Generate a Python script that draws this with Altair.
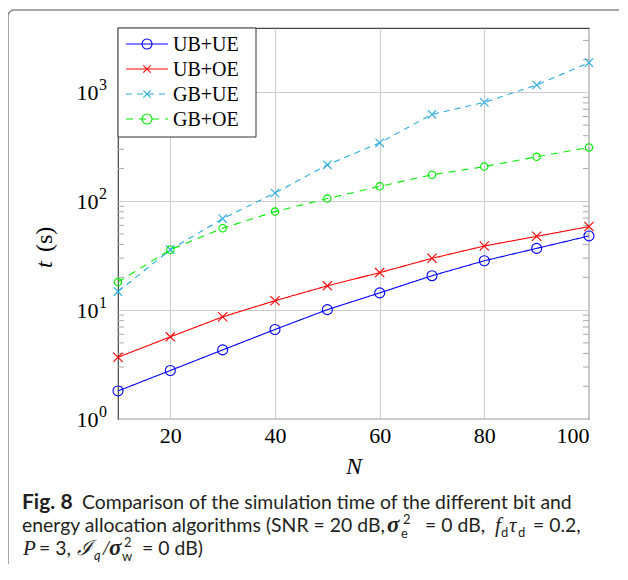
import altair as alt
import pandas as pd

# ---------------- data ----------------
N_values = [10, 20, 30, 40, 50, 60, 70, 80, 90, 100]
series_names = ["UB+UE", "UB+OE", "GB+UE", "GB+OE"]
t_ub_ue = [1.81, 2.79, 4.31, 6.64, 10.1, 14.4, 20.7, 28.4, 36.9, 48.0]
t_ub_oe = [3.69, 5.68, 8.68, 12.2, 16.7, 22.1, 29.9, 38.8, 47.6, 58.5]
t_gb_ue = [14.8, 35.9, 69.3, 119, 216, 344, 628, 809, 1168, 1875]
t_gb_oe = [18.1, 35.9, 56.5, 80.3, 105.8, 137, 175, 208, 256, 312]
y_tick_values = [1, 10, 100, 1000]
y_tick_exponents = ["0", "1", "2", "3"]
x_tick_values = [20, 40, 60, 80, 100]

colors = ["#0000ff", "#ff0000", "#29abe2", "#00ee00"]
dashes = [[1, 0], [1, 0], [6, 5], [7, 6]]
XPATH = "M-1,-1L1,1M-1,1L1,-1"
shapes = ["circle", XPATH, XPATH, "circle"]
sizes = [100, 55, 55, 100]

rows = []
for name, vals in zip(series_names, [t_ub_ue, t_ub_oe, t_gb_ue, t_gb_oe]):
    for n, t in zip(N_values, vals):
        rows.append({"N": n, "t": t, "series": name})
df = pd.DataFrame(rows)

minor = [k * 10 ** e for e in range(0, 4) for k in range(2, 10) if k * 10 ** e < 3900]
df_minor = pd.DataFrame({"v": minor})
df_exp = pd.DataFrame({"v": y_tick_values, "e": y_tick_exponents})

W, H = 471, 391
SERIF = "Liberation Serif"
SANS = "Lato"
CAP = "#231f20"

xs = alt.Scale(domain=[10, 100], nice=False)
ys = alt.Scale(type="log", domain=[1, 3900], nice=False)
col = alt.Scale(domain=series_names, range=colors)

base = alt.Chart(df)

lines = base.mark_line(strokeWidth=1.1).encode(
    x=alt.X("N:Q", scale=xs, axis=alt.Axis(
        values=x_tick_values, title="N", grid=True, ticks=False, domain=False,
        labelFont=SERIF, labelFontSize=22, labelColor="black", labelPadding=6,
        titleFont=SERIF, titleFontSize=24, titleFontStyle="italic",
        titleFontWeight="normal", titleColor="black", titlePadding=8,
        gridColor="#cccccc", gridWidth=1)),
    y=alt.Y("t:Q", scale=ys, axis=alt.Axis(
        values=y_tick_values, labelExpr="'10'", title=None, grid=True,
        ticks=False, domain=False, labelFont=SERIF, labelFontSize=22,
        labelColor="black", labelPadding=20, labelBaseline="middle",
        gridColor="#cccccc", gridWidth=1)),
    color=alt.Color("series:N", scale=col, legend=None),
    strokeDash=alt.StrokeDash("series:N", scale=alt.Scale(domain=series_names, range=dashes), legend=None),
    detail="series:N",
)

exponents = alt.Chart(df_exp).mark_text(
    font=SERIF, fontSize=16, color="black", align="left", baseline="middle", dy=-7
).encode(y=alt.Y("v:Q", scale=ys), x=alt.value(-19), text="e:N")

points = base.mark_point(filled=False, strokeWidth=1.1, opacity=1).encode(
    x=alt.X("N:Q", scale=xs),
    y=alt.Y("t:Q", scale=ys),
    color=alt.Color("series:N", scale=col, legend=None),
    shape=alt.Shape("series:N", scale=alt.Scale(domain=series_names, range=shapes), legend=None),
    size=alt.Size("series:N", scale=alt.Scale(domain=series_names, range=sizes), legend=None),
)

minor_left = alt.Chart(df_minor).mark_rule(color="#aaaaaa", strokeWidth=1).encode(
    y=alt.Y("v:Q", scale=ys), x=alt.value(0), x2=alt.value(6))
minor_right = alt.Chart(df_minor).mark_rule(color="#aaaaaa", strokeWidth=1).encode(
    y=alt.Y("v:Q", scale=ys), x=alt.value(W - 6), x2=alt.value(W))

one = pd.DataFrame({"_": [0]})

def txt(text, x, y, font=SANS, size=19, style="normal", weight="normal", color=CAP, angle=0, align="left", baseline="alphabetic"):
    return alt.Chart(one).mark_text(
        text=text, font=font, fontSize=size, fontStyle=style, fontWeight=weight,
        color=color, angle=angle, align=align, baseline=baseline,
    ).encode(x=alt.value(x), y=alt.value(y))

# legend
legend_layers = [
    alt.Chart(one).mark_rect(fill="white", stroke="#333333", strokeWidth=1).encode(
        x=alt.value(0), x2=alt.value(138), y=alt.value(0), y2=alt.value(109))
]
for i, name in enumerate(series_names):
    yy = 16 + 25 * i
    legend_layers.append(alt.Chart(one).mark_rule(
        color=colors[i], strokeWidth=1.1, strokeDash=dashes[i]).encode(
        x=alt.value(8), x2=alt.value(50), y=alt.value(yy)))
    legend_layers.append(alt.Chart(one).mark_point(
        shape=shapes[i], size=sizes[i], filled=False, color=colors[i], strokeWidth=1.1, opacity=1).encode(
        x=alt.value(29), y=alt.value(yy)))
    legend_layers.append(txt(name, 55, yy + 1, font=SERIF, size=20, color="black", baseline="middle"))

# frame around figure + caption: left and top edges only (right/bottom lie outside the page)
frame = [
    alt.Chart(one).mark_rule(stroke="#8a8a8a", strokeWidth=1.5).encode(
        x=alt.value(-110), y=alt.value(-12), y2=alt.value(560)),
    alt.Chart(one).mark_rule(stroke="#8a8a8a", strokeWidth=1.5).encode(
        x=alt.value(-104), x2=alt.value(520), y=alt.value(-18)),
    alt.Chart(one).mark_arc(stroke="#8a8a8a", strokeWidth=1.5, fill=None,
                            radius=6, radius2=6, theta=4.712, theta2=6.283).encode(
        x=alt.value(-104), y=alt.value(-12)),
]

# y title
ytitle = [
    txt("t", -73, 240, font=SERIF, size=24, style="italic", color="black", angle=270, align="left", baseline="middle"),
    txt("(s)", -73, 224, font=SERIF, size=24, color="black", angle=270, align="left", baseline="middle"),
]

OX, OY = 118, 28.3
def cap(text, rx, ry, **kw):
    return txt(text, rx - OX, ry - OY, **kw)

L1, L2, L3 = 509.5, 532.3, 555.3
caption = [
    cap("Fig. 8", 22, L1, weight="bold", size=21),
    cap("Comparison of the simulation time of the different bit and", 82, L1, size=19.4),
    cap("energy allocation algorithms (SNR = 20 dB,", 22, L2, size=19.4),
    cap("σ", 387, L2, font=SERIF, style="italic", weight="bold", size=23),
    cap("e", 401, L2 + 6, size=13),
    cap("2", 403, L2 - 8, size=13),
    cap("= 0 dB,", 425, L2, size=19.4),
    cap("f", 495, L2, font=SERIF, style="italic", size=21),
    cap("d", 501, L2 + 5, size=13),
    cap("τ", 509, L2, font=SERIF, style="italic", size=21),
    cap("d", 518, L2 + 5, size=13),
    cap("= 0.2,", 533, L2, size=19.4),
    cap("P", 23, L3, font=SERIF, style="italic", size=21),
    cap("= 3,", 39, L3, size=19.4),
    cap("ℐ", 77, L3, font=SERIF, style="italic", size=21),
    cap("q", 94, L3 + 5, size=13, style="italic"),
    cap("/", 103, L3, font=SERIF, style="italic", size=21),
    cap("σ", 109, L3, font=SERIF, style="italic", weight="bold", size=23),
    cap("w", 122, L3 + 6, size=13),
    cap("2", 124, L3 - 8, size=13),
    cap("= 0 dB)", 142, L3, size=19.4),
]

chart = alt.layer(
    *frame, lines, minor_left, minor_right, points, exponents, *legend_layers, *ytitle, *caption
).properties(
    width=W, height=H,
    autosize=alt.AutoSizeParams(type="none"),
    padding={"left": 110, "top": 20, "right": 30, "bottom": 145},
).configure_view(stroke="#444444", strokeWidth=1.2)

chart.save("out.html", embed_options={"renderer": "svg", "actions": False})
